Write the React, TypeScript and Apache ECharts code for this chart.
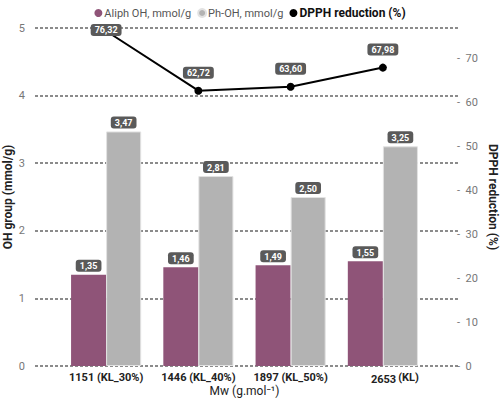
import React, { useEffect, useRef } from 'react';
import * as echarts from 'echarts';

const categories = ['1151 (KL_30%)', '1446 (KL_40%)', '1897 (KL_50%)', '2653 (KL)'];
const aliphOH = [1.35, 1.46, 1.49, 1.55];
const phOH = [3.47, 2.81, 2.5, 3.25];
const dpph = [76.32, 62.72, 63.6, 67.98];
const leftTicks = [0, 1, 2, 3, 4, 5];
const rightMax = 77;

const FONT = 'Roboto, "Noto Sans", sans-serif';
const PURPLE = '#8f5478';
const GRAY = '#b3b3b3';

const fmt = (v: number) => v.toFixed(2).replace('.', ',');

const boxLabel = {
  show: true,
  position: 'top' as const,
  distance: 3,
  backgroundColor: '#5a5a5a',
  borderRadius: 3,
  padding: [2, 4, 1, 4],
  color: '#fff',
  fontWeight: 'bold' as const,
  fontSize: 9,
  fontFamily: FONT,
  formatter: (p: any) => fmt(p.value)
};

const App: React.FC = () => {
  const chartRef = useRef<HTMLDivElement>(null);

  useEffect(() => {
    if (!chartRef.current) return;
    const chart = echarts.init(chartRef.current, null, { renderer: 'svg' });

    const option: echarts.EChartsOption = {
      animation: false,
      textStyle: { fontFamily: FONT },
      legend: {
        top: 2,
        left: 'center',
        itemWidth: 8,
        itemHeight: 8,
        itemGap: 6,
        icon: 'circle',
        data: [
          { name: 'Aliph OH, mmol/g', textStyle: { color: '#555', fontSize: 11 } },
          { name: 'Ph-OH, mmol/g', textStyle: { color: '#555', fontSize: 11 } },
          { name: 'DPPH reduction (%)', textStyle: { color: '#111', fontSize: 12, fontWeight: 'bold' } }
        ],
        textStyle: { fontFamily: FONT, padding: [0, 0, 0, -3] }
      },
      grid: [
        // background grid for dashed lines and visible axes
        { left: 35, right: 40, top: 28, bottom: 34, outerBoundsMode: 'none' } as any,
        // grid for the bars and line
        { left: 60, right: 71, top: 28, bottom: 34, outerBoundsMode: 'none' } as any
      ],
      xAxis: [
        { type: 'category', gridIndex: 0, show: false, data: categories },
        {
          type: 'category',
          gridIndex: 1,
          data: categories,
          axisLine: { show: false },
          axisTick: { show: false },
          axisLabel: {
            interval: 0,
            color: '#222',
            fontWeight: 'bold',
            fontSize: 11,
            margin: 6,
            formatter: (v: string) => (v === '2653 (KL)' ? '{a|2653}{b|(KL)}' : v),
            rich: {
              a: { fontWeight: 'bold', fontSize: 11, color: '#222', fontFamily: FONT, padding: [0, 2, 0, 24] },
              b: { fontWeight: 'bold', fontSize: 11, color: '#222', fontFamily: FONT, padding: [0, 0, 4, 0] }
            }
          },
          name: 'Mw (g.mol⁻¹)',
          nameLocation: 'middle',
          nameGap: 19,
          nameMoveOverlap: false,
          nameTextStyle: { color: '#222', fontSize: 12, fontFamily: FONT }
        } as any
      ],
      yAxis: [
        {
          type: 'value',
          gridIndex: 0,
          min: leftTicks[0],
          max: leftTicks[leftTicks.length - 1],
          interval: 1,
          axisLine: { show: false },
          axisTick: { show: false },
          axisLabel: { color: '#777', fontSize: 11, margin: 10 },
          splitLine: { lineStyle: { color: '#666', type: [3, 2], width: 1.5 } },
          name: 'OH group (mmol/g)',
          nameLocation: 'middle',
          nameGap: 21,
          nameMoveOverlap: false,
          nameTextStyle: { color: '#222', fontWeight: 'bold', fontSize: 12, fontFamily: FONT }
        } as any,
        {
          type: 'value',
          gridIndex: 0,
          position: 'right',
          min: 0,
          max: rightMax,
          interval: 10,
          axisLine: { show: false },
          axisTick: { show: false },
          splitLine: { show: false },
          axisLabel: {
            color: '#777',
            fontSize: 11,
            margin: -3,
            formatter: (v: number) => (v % 10 === 0 ? `-  ${v}` : '')
          },
          name: 'DPPH reduction (%)',
          nameLocation: 'middle',
          nameGap: 27,
          nameRotate: -90,
          nameMoveOverlap: false,
          nameTextStyle: { color: '#222', fontWeight: 'bold', fontSize: 12, fontFamily: FONT }
        } as any,
        {
          type: 'value',
          gridIndex: 1,
          min: leftTicks[0],
          max: leftTicks[leftTicks.length - 1],
          show: false
        },
        {
          type: 'value',
          gridIndex: 1,
          position: 'right',
          min: 0,
          max: rightMax,
          show: false
        }
      ],
      series: [
        {
          name: 'Aliph OH, mmol/g',
          type: 'bar',
          xAxisIndex: 1,
          yAxisIndex: 2,
          data: aliphOH,
          barGap: '0%',
          barCategoryGap: '24%',
          itemStyle: { color: PURPLE },
          label: boxLabel
        },
        {
          name: 'Ph-OH, mmol/g',
          type: 'bar',
          xAxisIndex: 1,
          yAxisIndex: 2,
          data: phOH,
          barGap: '0%',
          barCategoryGap: '24%',
          itemStyle: { color: GRAY, borderColor: '#e2e2e2', borderWidth: 1 },
          label: boxLabel
        },
        {
          name: 'DPPH reduction (%)',
          type: 'line',
          xAxisIndex: 1,
          yAxisIndex: 3,
          data: dpph.map((v, i) =>
            i === 0 ? { value: v, label: { offset: [0, 17] } } : v
          ),
          symbol: 'circle',
          symbolSize: 8,
          itemStyle: { color: '#000' },
          lineStyle: { color: '#000', width: 2 },
          label: { ...boxLabel, distance: 8 },
          z: 5
        }
      ]
    };

    chart.setOption(option);
    return () => chart.dispose();
  }, []);

  return (
    <div
      ref={chartRef}
      style={{ position: 'absolute', left: 0, top: 0, width: 500, height: 400, background: '#fff' }}
    />
  );
};

export default App;
